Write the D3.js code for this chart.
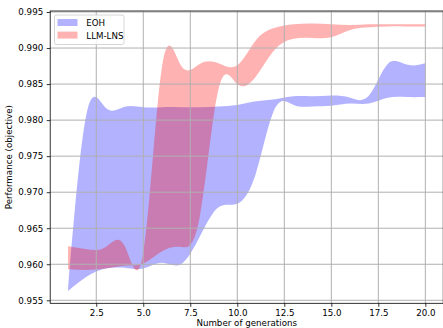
<!DOCTYPE html>
<html>

<head>
  <title>Performance vs generations</title>
  <script src="https://unpkg.com/d3@7.8.2/dist/d3.min.js"></script>
  <style>
    body { margin: 0; background: #fff; }
    text { font-family: "DejaVu Sans", sans-serif; }
  </style>
</head>

<body>
  <script>

    // data: min / max of each method per generation
    const generations = [1, 2, 3, 4, 5, 6, 7, 8, 9, 10, 11, 12, 13, 14, 15, 16, 17, 18, 19, 20];

    const eohLow = [0.9563, 0.9583, 0.9594, 0.9595, 0.9594, 0.9602, 0.9600, 0.9638, 0.9679, 0.9684,
      0.9727, 0.9816, 0.9821, 0.9819, 0.9820, 0.9823, 0.9823, 0.9831, 0.9832, 0.9832];
    const eohHigh = [0.9567, 0.9811, 0.9817, 0.98185, 0.9818, 0.9818, 0.9818, 0.9818, 0.9819, 0.9821,
      0.9826, 0.9829, 0.9833, 0.9833, 0.9834, 0.9831, 0.9834, 0.9878, 0.9877, 0.9879];

    const lnsLow = [0.9593, 0.9592, 0.9594, 0.9598, 0.9601, 0.9618, 0.9624, 0.9665, 0.9843, 0.9850,
      0.9861, 0.9898, 0.9913, 0.9914, 0.9915, 0.9925, 0.9929, 0.9930, 0.9930, 0.9930];
    const lnsHigh = [0.9625, 0.9621, 0.9624, 0.9626, 0.9616, 0.9875, 0.9876, 0.9878, 0.9879, 0.9876,
      0.9911, 0.9928, 0.9933, 0.9934, 0.9933, 0.9932, 0.9933, 0.9933, 0.9933, 0.9933];

    const xTicks = [2.5, 5.0, 7.5, 10.0, 12.5, 15.0, 17.5, 20.0];
    const yTicks = [0.955, 0.960, 0.965, 0.970, 0.975, 0.980, 0.985, 0.990, 0.995];

    const series = [
      { name: "EOH", low: eohLow, high: eohHigh, color: "blue" },
      { name: "LLM-LNS", low: lnsLow, high: lnsHigh, color: "red" }
    ];

    const width = 443;
    const height = 328;

    // plot box
    const boxL = 50.2, boxR = 443.2, boxT = 11, boxB = 303.3;

    const svg = d3.select("body").append("svg")
      .attr("width", width)
      .attr("height", height);

    const x = d3.scaleLinear().domain([0.05, 20.95]).range([boxL, boxR]);
    const y = d3.scaleLinear().domain([0.955, 0.995]).range([300.3, 12.0]);

    // bands
    const area = d3.area()
      .curve(d3.curveNatural)
      .x(d => x(d.g))
      .y0(d => y(d.lo))
      .y1(d => y(d.hi));

    svg.append("clipPath").attr("id", "plot")
      .append("rect")
      .attr("x", boxL).attr("y", boxT)
      .attr("width", boxR - boxL).attr("height", boxB - boxT);

    svg.append("g")
      .attr("clip-path", "url(#plot)")
      .selectAll("path")
      .data(series)
      .enter()
      .append("path")
      .attr("d", s => area(generations.map((g, i) => ({ g: g, lo: s.low[i], hi: s.high[i] }))))
      .style("fill", s => s.color)
      .style("fill-opacity", 0.3)
      .style("stroke", "none");

    // grid over the bands, like matplotlib
    const xAxis = d3.axisBottom(x).tickValues(xTicks).tickFormat(d3.format(".1f"))
      .tickSize(3.5).tickPadding(3.5);
    const yAxis = d3.axisLeft(y).tickValues(yTicks).tickFormat(d3.format(".3f"))
      .tickSize(3.5).tickPadding(3.5);

    svg.append("g").selectAll("line")
      .data(xTicks).enter().append("line")
      .attr("x1", d => x(d)).attr("x2", d => x(d))
      .attr("y1", boxT).attr("y2", boxB)
      .style("stroke", "#b0b0b0").style("stroke-width", 1);

    svg.append("g").selectAll("line")
      .data(yTicks).enter().append("line")
      .attr("x1", boxL).attr("x2", boxR)
      .attr("y1", d => y(d)).attr("y2", d => y(d))
      .style("stroke", "#b0b0b0").style("stroke-width", 1);

    const gx = svg.append("g")
      .attr("transform", `translate(0,${boxB})`)
      .call(xAxis);
    const gy = svg.append("g")
      .attr("transform", `translate(${boxL},0)`)
      .call(yAxis);

    [gx, gy].forEach(g => {
      g.select(".domain").remove();
      g.selectAll("line").style("stroke", "#000").style("stroke-width", 0.8);
      g.selectAll("text").style("font-size", "8.7px").style("fill", "#000")
        .style("font-family", "DejaVu Sans");
    });

    // spines
    svg.append("rect")
      .attr("x", boxL).attr("y", boxT)
      .attr("width", boxR - boxL).attr("height", boxB - boxT)
      .style("fill", "none").style("stroke", "#000").style("stroke-width", 0.8);

    // axis labels
    svg.append("text")
      .attr("x", (boxL + boxR) / 2).attr("y", 325.5)
      .style("text-anchor", "middle").style("font-size", "8.7px")
      .text("Number of generations");

    svg.append("text")
      .attr("transform", `translate(11.5,${(boxT + boxB) / 2}) rotate(-90)`)
      .style("text-anchor", "middle").style("font-size", "8.7px")
      .text("Performance (objective)");

    // legend
    const legend = svg.append("g").attr("transform", "translate(54.5,15)");
    legend.append("rect")
      .attr("width", 69.5).attr("height", 29.5).attr("rx", 2)
      .style("fill", "#fff").style("fill-opacity", 0.8)
      .style("stroke", "#cccccc").style("stroke-width", 0.8);

    const items = legend.selectAll("g.item")
      .data(series)
      .enter()
      .append("g")
      .attr("transform", (d, i) => `translate(3,${4 + i * 12.6})`);

    items.append("rect")
      .attr("width", 20).attr("height", 7)
      .style("fill", d => d.color).style("fill-opacity", 0.3);

    items.append("text")
      .attr("x", 28.8).attr("y", 7)
      .style("font-size", "8.7px")
      .text(d => d.name);

  </script>
</body>

</html>
